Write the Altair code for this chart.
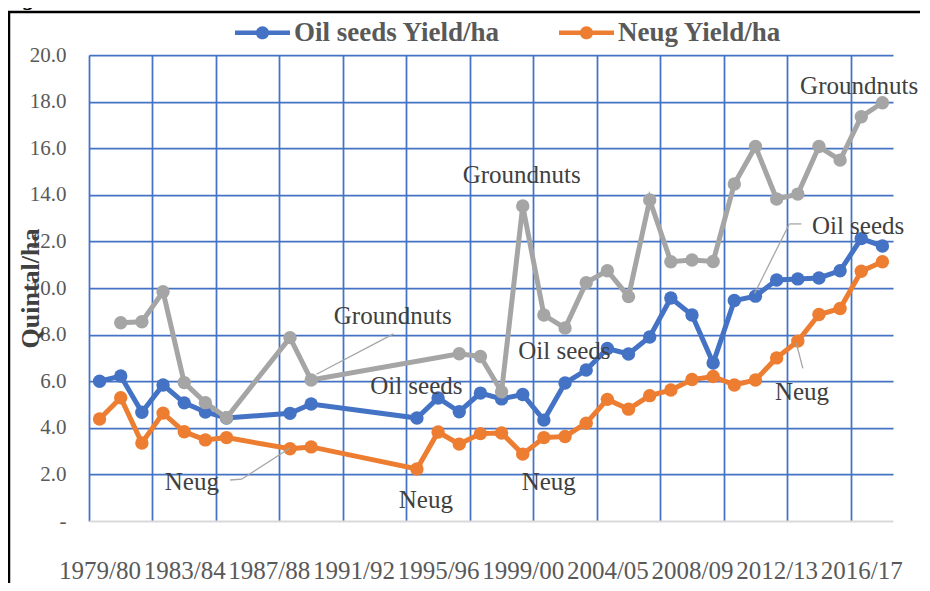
import json
import altair as alt
import pandas as pd

# ---------------- data ----------------
years = ["1979/80", "1980/81", "1981/82", "1982/83", "1983/84", "1984/85", "1985/86", "1986/87",
         "1987/88", "1988/89", "1989/90", "1990/91", "1991/92", "1992/93", "1993/94", "1994/95",
         "1995/96", "1996/97", "1997/98", "1998/99", "1999/00", "2000/01", "2001/02", "2002/03",
         "2004/05", "2005/06", "2006/07", "2007/08", "2008/09", "2009/10", "2010/11", "2011/12",
         "2012/13", "2013/14", "2014/15", "2015/16", "2016/17", "2017/18"]

oil_seeds = [6.0, 6.22, 4.67, 5.84, 5.07, 4.68, 4.42, None, None, 4.62, 5.02, None, None, None, None,
             4.42, 5.28, 4.69, 5.49, 5.24, 5.43, 4.33, 5.92, 6.48, 7.4, 7.17, 7.9, 9.57, 8.84, 6.78,
             9.46, 9.65, 10.34, 10.39, 10.43, 10.74, 12.12, 11.8]

neug = [4.38, 5.29, 3.35, 4.63, 3.83, 3.48, 3.58, None, None, 3.1, 3.18, None, None, None, None,
        2.23, 3.82, 3.3, 3.75, 3.78, 2.87, 3.58, 3.63, 4.2, 5.22, 4.8, 5.38, 5.62, 6.07, 6.2,
        5.84, 6.05, 7.0, 7.72, 8.86, 9.12, 10.72, 11.13]

groundnuts = [None, 8.51, 8.55, 9.84, 5.94, 5.08, 4.43, None, None, 7.87, 6.05, None, None, None,
              None, None, None, 7.18, 7.06, 5.55, 13.52, 8.84, 8.28, 10.23, 10.74, 9.63, 13.78,
              11.13, 11.2, 11.14, 14.46, 16.07, 13.82, 14.03, 16.07, 15.49, 17.35, 17.95]

series_names = ["Oil seeds Yield/ha", "Neug Yield/ha", "Groundnuts Yield/ha"]
series_colors = ["#4472C4", "#ED7D31", "#A5A5A5"]

y_ticks = [0, 2, 4, 6, 8, 10, 12, 14, 16, 18, 20]
label_idx = list(range(0, len(years), 4))
grid_idx = [i - 0.5 for i in range(0, len(years), 3)]

# data labels (Excel style) and their leader lines, in data units
ann_text = ["Groundnuts", "Oil seeds", "Neug", "Neug", "Groundnuts", "Oil seeds", "Neug",
            "Groundnuts", "Oil seeds", "Neug"]
ann_x = [13.86, 14.97, 15.42, 4.36, 19.95, 21.97, 21.23, 35.9, 35.85, 33.2]
ann_y = [8.8, 5.79, 0.9, 1.67, 14.85, 7.3, 1.67, 18.67, 12.66, 5.54]

lead_x1 = [13.89, 6.17, 6.73, 33.17, 32.6, 32.93]
lead_y1 = [8.03, 1.76, 1.80, 12.75, 12.75, 7.63]
lead_x2 = [10.25, 6.73, 9.0, 32.6, 30.96, 33.24]
lead_y2 = [6.30, 1.80, 3.13, 12.75, 9.77, 6.55]

title_text = "Figure 3: Selected Oil Seeds Yield/ha: 1979/80 - 2017/18"

# ---------------- styling ----------------
FONT = "Liberation Serif"
GRID = "#4472C4"

x_scale = alt.Scale(domain=[-0.5, len(years) - 0.5], nice=False, zero=False)
y_scale = alt.Scale(domain=[0, 20], nice=False, zero=True)
color_scale = alt.Scale(domain=series_names, range=series_colors)

label_expr = json.dumps(years) + "[datum.value]"

x_label_axis = alt.Axis(values=label_idx, labelExpr=label_expr, grid=False, ticks=False,
                        domain=True, domainColor="#D9D9D9", domainWidth=2,
                        labelFont=FONT, labelFontSize=25, labelColor="#595959",
                        labelPadding=37, labelOverlap=False, labelFlush=False,
                        title=None, orient="bottom")
x_grid_axis = alt.Axis(values=grid_idx, grid=True, gridColor=GRID, gridWidth=1.75,
                       labels=False, ticks=False, domain=False, title=None, orient="bottom")

y_axis = alt.Axis(values=y_ticks,
                  labelExpr="datum.value == 0 ? '-\u00a0' : format(datum.value, '.1f')",
                  grid=True, gridColor=GRID, gridWidth=1.75,
                  gridOpacity={"condition": {"test": "datum.value == 0", "value": 0}, "value": 1},
                  ticks=False, domain=False,
                  labelFont=FONT, labelFontSize=21, labelColor="#595959", labelPadding=23,
                  title="Quintal/ha", titleFont=FONT, titleFontSize=26, titleFontWeight="bold",
                  titleColor="#404040", titleX=-59, titleY=233, titleAngle=270,
                  titleBaseline="middle", titleAlign="center")

legend_path = ("M-1,-0.085L1,-0.085L1,0.085L-1,0.085Z "
               "M0.24,0A0.24,0.24,0,1,1,-0.24,0A0.24,0.24,0,1,1,0.24,0Z")
legend = alt.Legend(title=None, orient="none", legendX=146, legendY=-50, direction="horizontal",
                    values=series_names[:2], symbolType=legend_path, symbolSize=3025,
                    symbolStrokeWidth=0, labelFont=FONT, labelFontSize=27,
                    labelFontWeight="bold", labelColor="#595959", labelOffset=4,
                    labelLimit=0, columnPadding=58, padding=0)


def series_layers(name, values, line_x_axis, point_x_axis, points_first):
    df = pd.DataFrame({"idx": list(range(len(years))), "value": values, "series": name})
    df = df.dropna(subset=["value"])
    base = alt.Chart(df)
    line = base.mark_line(strokeWidth=5).encode(
        x=alt.X("idx:Q", scale=x_scale, axis=line_x_axis),
        y=alt.Y("value:Q", scale=y_scale, axis=y_axis),
        color=alt.Color("series:N", scale=color_scale, legend=legend),
    )
    pts = base.mark_circle(size=180, opacity=1).encode(
        x=alt.X("idx:Q", scale=x_scale, axis=point_x_axis),
        y=alt.Y("value:Q", scale=y_scale, axis=y_axis),
        color=alt.Color("series:N", scale=color_scale, legend=legend),
    )
    return [pts, line] if points_first else [line, pts]


layers = []
layers += series_layers(series_names[0], oil_seeds, x_label_axis, x_grid_axis, True)
layers += series_layers(series_names[1], neug, None, None, False)
layers += series_layers(series_names[2], groundnuts, None, None, False)

lead_df = pd.DataFrame({"x1": lead_x1, "y1": lead_y1, "x2": lead_x2, "y2": lead_y2})
leaders = alt.Chart(lead_df).mark_rule(color="#A5A5A5", strokeWidth=1.3).encode(
    x=alt.X("x1:Q", scale=x_scale, axis=None),
    y=alt.Y("y1:Q", scale=y_scale, axis=y_axis),
    x2="x2:Q", y2="y2:Q",
)

ann_df = pd.DataFrame({"text": ann_text, "x": ann_x, "y": ann_y})
annotations = alt.Chart(ann_df).mark_text(font=FONT, fontSize=25, color="#404040",
                                          align="center", baseline="middle").encode(
    x=alt.X("x:Q", scale=x_scale, axis=None),
    y=alt.Y("y:Q", scale=y_scale, axis=y_axis),
    text="text:N",
)

one = pd.DataFrame({"t": [title_text]})
frame = alt.Chart(one).mark_rect(fillOpacity=0, stroke="black", strokeWidth=2.5).encode(
    x=alt.value(-80), y=alt.value(-43), x2=alt.value(3000), y2=alt.value(3000))
title = alt.Chart(one).mark_text(font=FONT, fontSize=24, fontWeight="bold", fontStyle="italic",
                                 color="black", align="left", baseline="alphabetic").encode(
    x=alt.value(-88), y=alt.value(-50), text="t:N")

chart = alt.layer(*layers, leaders, annotations, frame, title).resolve_scale(
    x="shared", y="shared", color="shared"
).resolve_axis(x="independent").properties(
    width=804, height=466,
    autosize=alt.AutoSizeParams(type="none"),
    padding={"left": 81, "top": 47, "right": 27, "bottom": 62},
    background="white",
).configure_view(stroke=None)

chart.save("out.html", embed_options={"renderer": "svg", "actions": False})
